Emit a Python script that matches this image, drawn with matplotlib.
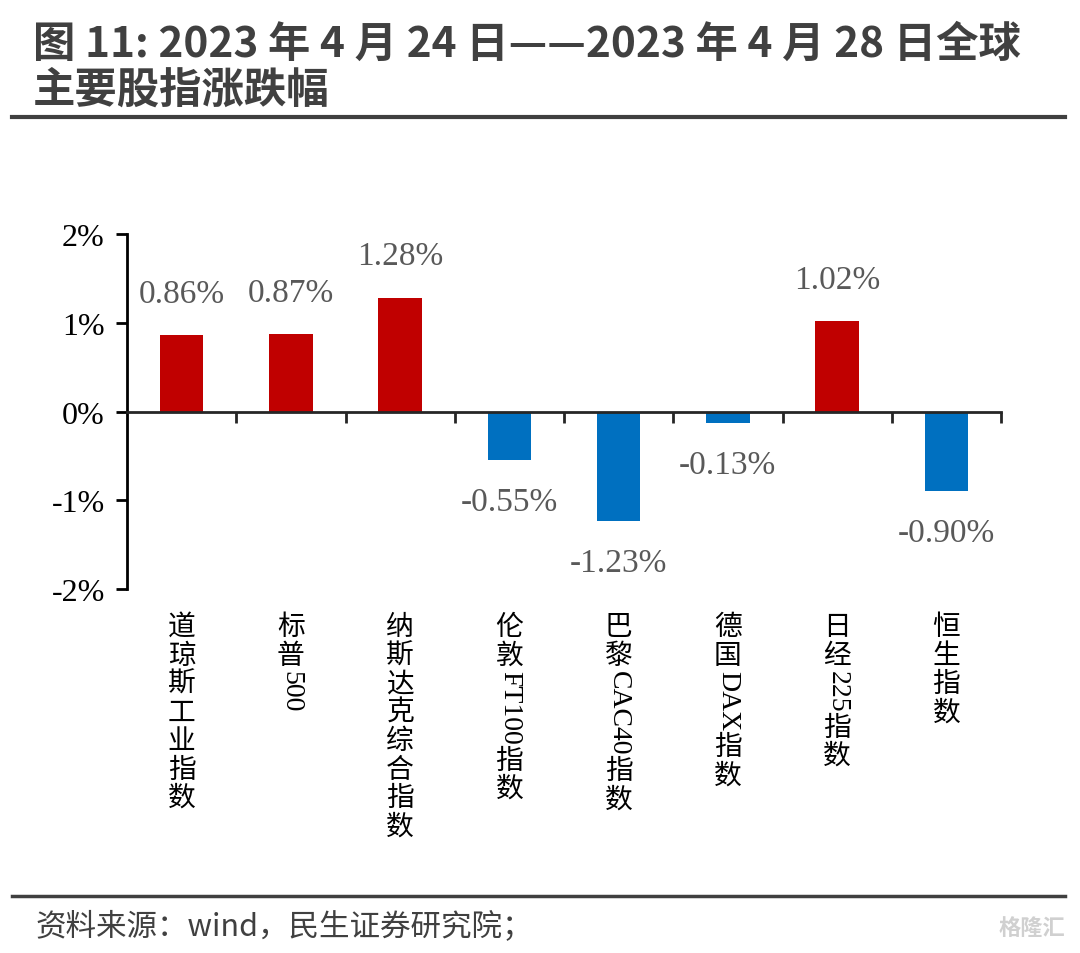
import matplotlib
matplotlib.use("Agg")
import matplotlib.pyplot as plt
import numpy as np
from matplotlib.font_manager import FontProperties
from matplotlib.textpath import TextPath
from matplotlib.lines import Line2D

plt.rcParams['font.family'] = ['Noto Sans CJK SC', 'DejaVu Sans']

# ---- data ----
categories = ["道琼斯工业指数", "标普500", "纳斯达克综合指数", "伦敦FT100指数",
              "巴黎CAC40指数", "德国DAX指数", "日经225指数", "恒生指数"]
changes = [0.86, 0.87, 1.28, -0.55, -1.23, -0.13, 1.02, -0.90]
ytick_values = [-2, -1, 0, 1, 2]
ytick_labels = ["-2%", "-1%", "0%", "1%", "2%"]
title_text = "图 11: 2023 年 4 月 24 日——2023 年 4 月 28 日全球\n主要股指涨跌幅"
source_text = "资料来源：wind，民生证券研究院；"

RED = "#C00000"
BLUE = "#0070C0"
W, H = 1080, 954
fig = plt.figure(figsize=(W / 100, H / 100), dpi=100)

# title
fig.text(33 / W, 1 - 24 / H, title_text, fontsize=30.5, fontweight='bold',
         color="#404040", va='top', ha='left', linespacing=1.1,
         family=['Noto Sans CJK SC', 'DejaVu Sans'])
fig.add_artist(Line2D([12 / W, 1065 / W], [1 - 118 / H, 1 - 118 / H],
                      transform=fig.transFigure, color="#404040", lw=3))
fig.add_artist(Line2D([12 / W, 1065 / W], [1 - 897 / H, 1 - 897 / H],
                      transform=fig.transFigure, color="#404040", lw=2.5))
fig.text(35 / W, 1 - 928 / H, source_text, fontsize=22, color="#404040",
         va='center', ha='left')
fig.text(1065 / W, 1 - 928 / H, "格隆汇", fontsize=16, color="#d0d0d0",
         va='center', ha='right', fontweight='bold')

# axes
ax = fig.add_axes([127 / W, 1 - 590 / H, (1001 - 127) / W, (590 - 235) / H])
n = len(categories)
x = np.arange(n)
colors = [RED if v >= 0 else BLUE for v in changes]
ax.bar(x, changes, width=0.4, color=colors, zorder=2)
ax.set_xlim(-0.5, n - 0.5)
ax.set_ylim(-2, 2)

for s in ['top', 'right']:
    ax.spines[s].set_visible(False)
ax.spines['left'].set_linewidth(2)
ax.spines['left'].set_color('black')
ax.spines['bottom'].set_position(('data', 0))
ax.spines['bottom'].set_linewidth(2)
ax.spines['bottom'].set_color('#262626')
ax.spines['bottom'].set_zorder(3)

ax.set_yticks(ytick_values)
ax.set_yticklabels(ytick_labels, family='Liberation Serif', fontsize=23)
ax.tick_params(axis='y', direction='out', length=8, width=2, pad=8, colors='black')
ax.set_xticks(np.arange(0.5, n, 1.0))
ax.set_xticklabels([])
ax.tick_params(axis='x', direction='out', length=8, width=2, color='#262626')

# data labels
for xi, v in zip(x, changes):
    off = 30 if v >= 0 else -30
    ax.annotate(f"{v:.2f}%", xy=(xi, v), xytext=(0, off), textcoords='offset points',
                ha='center', va='center', fontsize=24, color="#595959",
                family='Liberation Serif')

# vertical category labels
fs = 20
pitch = 20.5
serif_fp = FontProperties(family='Liberation Serif', size=fs)
start = 16.5  # points below axis bottom


def runs(s):
    out = []
    for ch in s:
        is_ascii = ord(ch) < 128
        if out and out[-1][0] == is_ascii and is_ascii:
            out[-1][1] += ch
        else:
            out.append([is_ascii, ch])
    return out


for xi, lab in zip(x, categories):
    y = start
    for is_ascii, txt in runs(lab):
        if is_ascii:
            length = TextPath((0, 0), txt, size=fs, prop=serif_fp).get_extents().width + 3
            ax.annotate(txt, xy=(xi, 0), xycoords=('data', 'axes fraction'),
                        xytext=(0, -y - 1), textcoords='offset points',
                        rotation=-90, ha='center', va='top', fontsize=fs,
                        family='Liberation Serif', color='black', annotation_clip=False)
            y += length
        else:
            ax.annotate(txt, xy=(xi, 0), xycoords=('data', 'axes fraction'),
                        xytext=(0, -y - pitch / 2), textcoords='offset points',
                        ha='center', va='center', fontsize=fs, color='black',
                        annotation_clip=False)
            y += pitch

fig.savefig("out.png", dpi=100)
